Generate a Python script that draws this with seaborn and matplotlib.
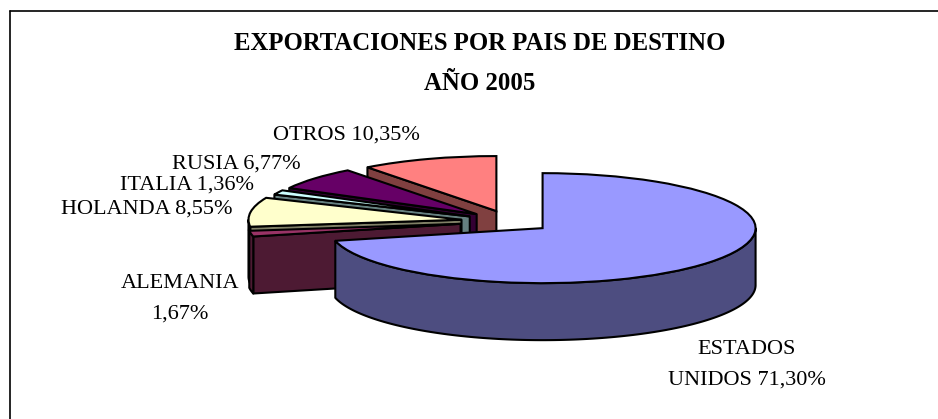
import numpy as np
import matplotlib
matplotlib.use('Agg')
import matplotlib.pyplot as plt
from matplotlib.patches import Polygon
import seaborn as sns

# Values, clockwise from 12 o'clock
paises = ['ESTADOS\nUNIDOS', 'ALEMANIA\n', 'HOLANDA', 'ITALIA', 'RUSIA', 'OTROS']
valores = [71.30, 1.67, 8.55, 1.36, 6.77, 10.35]

colores = ['#9999FF', '#993366', '#FFFFCC', '#CCFFFF', '#660066', '#FF8080']
colores_lado = ['#4D4D80', '#4D1A33', '#808066', '#668080', '#330033', '#804040']
separacion = [0.195, 0.236, 0.23, 0.21, 0.206, 0.20]

# pixel layout of the 938x419 picture
W, H = 938, 419
cx, cy = 510, 221.5   # pie centre
rx, ry = 213, 55      # radii of the flattened pie
alto = 57             # thickness

sns.set_theme(style='white')
plt.rcParams['font.family'] = ['Liberation Serif', 'DejaVu Serif']

fig = plt.figure(figsize=(W / 100, H / 100), dpi=100)
ax = fig.add_axes([0, 0, 1, 1])
wedges, _ = ax.pie(valores, colors=colores, startangle=90, counterclock=False,
                   explode=separacion, radius=1,
                   wedgeprops={'edgecolor': 'black', 'linewidth': 1.5})
ax.set_aspect('auto')
ax.set_xlim(-cx / rx, (W - cx) / rx)
ax.set_ylim((cy - H) / ry, cy / ry)
ax.axis('off')

d = alto / ry


def cara(xs, ys, color, z):
    # extrude an edge downwards into a side face
    pts = np.column_stack([np.r_[xs, xs[::-1]], np.r_[ys, np.asarray(ys)[::-1] - d]])
    ax.add_patch(Polygon(pts, closed=True, facecolor=color, edgecolor='black',
                         linewidth=1.5, joinstyle='round', zorder=z))


# draw back to front: OTROS first, ESTADOS UNIDOS last
for i in range(len(wedges) - 1, -1, -1):
    w = wedges[i]
    z = 10 + 3 * (len(wedges) - i)
    x0, y0 = w.center
    for t in (w.theta1, w.theta2):
        c = np.cos(np.radians(t))
        if (t == w.theta1 and c > 1e-6) or (t == w.theta2 and c < -1e-6):
            cara(np.array([x0, x0 + c]), np.array([y0, y0 + np.sin(np.radians(t))]),
                 colores_lado[i], z)
    ang = np.radians(np.linspace(w.theta1, w.theta2, 200))
    ang = ang[np.sin(ang) < 0]
    if len(ang):
        cara(x0 + np.cos(ang), y0 + np.sin(ang), colores_lado[i], z + 1)
    w.set_zorder(z + 2)

# frame: only the top and left lines are in the picture
fig.add_artist(plt.Line2D([9.5 / W, 9.5 / W], [0, 1 - 11.5 / H], color='black', lw=1.2))
fig.add_artist(plt.Line2D([9.5 / W, 1], [1 - 11.5 / H, 1 - 11.5 / H], color='black', lw=1.2))

# title
fig.text(480 / W, 1 - 44 / H, 'EXPORTACIONES POR PAIS DE DESTINO', ha='center', va='center',
         fontsize=17.8, fontweight='bold', color='black')
fig.text(480 / W, 1 - 83 / H, 'AÑO 2005', ha='center', va='center',
         fontsize=17.8, fontweight='bold', color='black')

# data labels
etiquetas = [f"{p} {v:.2f}%".replace('.', ',') for p, v in zip(paises, valores)]
pos_etiquetas = [(747, 364.5), (180, 298.5), (147, 209.5), (187, 185), (236, 164.5), (346, 135.5)]
for (x, y), s in zip(pos_etiquetas, etiquetas):
    fig.text(x / W, 1 - y / H, s.replace('\n ', '\n'), ha='center', va='center',
             fontsize=16, color='black', linespacing=1.85)

fig.savefig('out.png', dpi=100)
